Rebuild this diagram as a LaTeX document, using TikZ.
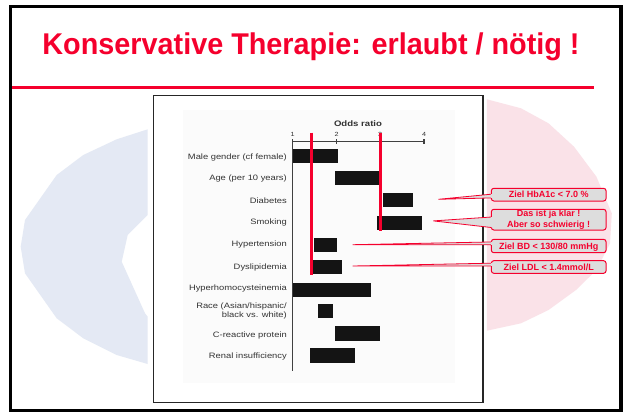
\documentclass[tikz,border=0pt]{standalone}
\usepackage{fontspec}
\setmainfont{Liberation Sans}
\newfontfamily\chartfont[FakeStretch=1.2]{Liberation Sans}
\newfontfamily\titlefont[FakeStretch=0.96]{Liberation Sans}
\usetikzlibrary{calc}
\definecolor{titlered}{RGB}{245,0,45}
\definecolor{ringblue}{RGB}{228,233,244}
\definecolor{ringpink}{RGB}{250,226,232}
\definecolor{boxgray}{RGB}{221,221,221}
\definecolor{panelgray}{RGB}{251,251,251}
\newcommand\callptr[4]{%
  \fill[boxgray] (#2) -- ($(#1.north west)!#3!(#1.south west)$) -- ($(#1.north west)!#3!(#1.south west)+(1.5,0)$)
     -- ($(#1.north west)!#4!(#1.south west)+(1.5,0)$) -- ($(#1.north west)!#4!(#1.south west)$) -- cycle;
  \draw[ptr] ($(#1.north west)!#3!(#1.south west)$) -- (#2) -- ($(#1.north west)!#4!(#1.south west)$);
}
\begin{document}
\begin{tikzpicture}[x=1pt,y=-1pt,
  lbl/.style={anchor=base east, font=\chartfont\fontsize{7.8}{8.4}\selectfont, text=black!80, inner sep=0pt, align=right},
  ticklbl/.style={anchor=base, font=\chartfont\fontsize{6}{6}\selectfont, text=black!80, inner sep=0pt},
  barfill/.style={fill=black!92},
  redline/.style={draw=titlered, line width=3pt},
  axisline/.style={draw=black!75, line width=1.1pt},
  callout/.style={draw=titlered, line width=1pt, fill=boxgray, rounded corners=2.5pt,
     minimum width=114.7pt, inner sep=0pt, font=\bfseries\fontsize{9}{10.6}\selectfont,
     text=titlered, align=center},
  ptr/.style={draw=titlered, line width=0.8pt}]
\useasboundingbox (0,0) rectangle (626,412);
\fill[white] (0,0) rectangle (626,412);

% background ring pieces
\fill[ringblue] (147.7,129.3) -- (116.7,139.3) -- (83.3,155) -- (56.7,175) -- (25,220) -- (20.7,246.7)
  -- (25,273.3) -- (56.7,318.3) -- (83.3,338.3) -- (116.7,355) -- (147.7,364)
  -- (147.7,316.7) -- (145,313.3) -- (121.7,261.7) -- (127.7,235) -- (147.7,215) -- cycle;
\fill[ringpink] (486.8,99.3) -- (521,108.3) -- (548.5,123.3) -- (574,146.7) -- (596.4,176.7)
  -- (611.8,213.3) -- (610,243.3) -- (596.4,270) -- (576,290) -- (548.5,310) -- (521,323.3)
  -- (486.8,330.7) -- cycle;

% title
\node[anchor=base, font=\titlefont\bfseries\fontsize{30}{31}\selectfont, text=titlered, inner sep=0pt]
  (title) at (311,55) {Konservative Therapie: erlaubt / nötig !};
\draw[titlered, line width=2.7pt] (12,87.3) -- (593.5,87.3);

% chart frame and panel
\fill[panelgray] (183,110) rectangle (455,383);
\draw[black!85, line width=1.8pt] (153.5,95.5) rectangle (483,402.5);

% axis
\node[anchor=base, font=\chartfont\bfseries\fontsize{8}{8}\selectfont, text=black!80, inner sep=0pt]
  (oddslbl) at (358,126.5) {Odds ratio};
\draw[axisline] (292.7,141.7) -- (424.3,141.7);
\draw[axisline] (292.7,139) -- (292.7,371);
\foreach \xx in {336.7,380,424}{\draw[axisline] (\xx,139.2) -- (\xx,143.8);}
\node[ticklbl] (t1) at (292.5,136) {1};
\node[ticklbl] (t2) at (336.7,136) {2};
\node[ticklbl] (t3) at (380,136) {3};
\node[ticklbl] (t4) at (424,136) {4};

% row labels
\node[lbl] (l1) at (287,159) {Male gender (cf female)};
\node[lbl] (l2) at (287,180.4) {Age (per 10 years)};
\node[lbl] (l3) at (287,203) {Diabetes};
\node[lbl] (l4) at (287,224.4) {Smoking};
\node[lbl] (l5) at (287,246.4) {Hypertension};
\node[lbl] (l6) at (287,269) {Dyslipidemia};
\node[lbl] (l7) at (287,290.4) {Hyperhomocysteinemia};
\node[lbl, anchor=north east] (l8) at (287,303) {Race (Asian/hispanic/\\black vs. white)};
\node[lbl] (l9) at (287,337) {C-reactive protein};
\node[lbl] (l10) at (287,358.4) {Renal insufficiency};

% bars
\fill[barfill] (292.7,149) rectangle (337.7,162.7);
\fill[barfill] (335.3,171) rectangle (378.7,185);
\fill[barfill] (382.7,193.3) rectangle (413.3,207.3);
\fill[barfill] (377.3,215.7) rectangle (422.3,230);
\fill[barfill] (313.7,237.7) rectangle (337.3,251.7);
\fill[barfill] (313,259.7) rectangle (341.7,274);
\fill[barfill] (292.7,283.3) rectangle (371.3,296.7);
\fill[barfill] (318,304.3) rectangle (332.7,318.3);
\fill[barfill] (335.3,326.3) rectangle (380,340.7);
\fill[barfill] (310,348.3) rectangle (354.7,363.3);

% red target lines
\draw[redline] (311.3,132.7) -- (311.3,275);
\draw[redline] (380,132.7) -- (380,231);

% callouts
\node[callout, minimum height=12.7pt, text height=6.5pt, text depth=0pt] (c1) at (548.7,194.65) {Ziel HbA1c < 7.0 \%};
\node[callout, minimum height=20.7pt] (c2) at (548.7,219.65) {Das ist ja klar !\\Aber so schwierig !};
\node[callout, minimum height=13.4pt, text height=6.5pt, text depth=0pt] (c3) at (548.7,246) {Ziel BD < 130/80 mmHg};
\node[callout, minimum height=12.6pt, text height=6.5pt, text depth=0pt] (c4) at (548.7,267) {Ziel LDL < 1.4mmol/L};

\coordinate (p1) at (438.3,199.3);
\coordinate (p2) at (433.3,220.9);
\coordinate (p3) at (352.6,244.7);
\coordinate (p4) at (352.6,266);
\callptr{c1}{p1}{0.47}{0.74}
\callptr{c2}{p2}{0.38}{0.86}
\callptr{c3}{p3}{0.22}{0.42}
\callptr{c4}{p4}{0.22}{0.42}

% outer frame
\draw[black, line width=3.5pt] (10.3,6.7) rectangle (621,410.3);
\end{tikzpicture}
\end{document}
